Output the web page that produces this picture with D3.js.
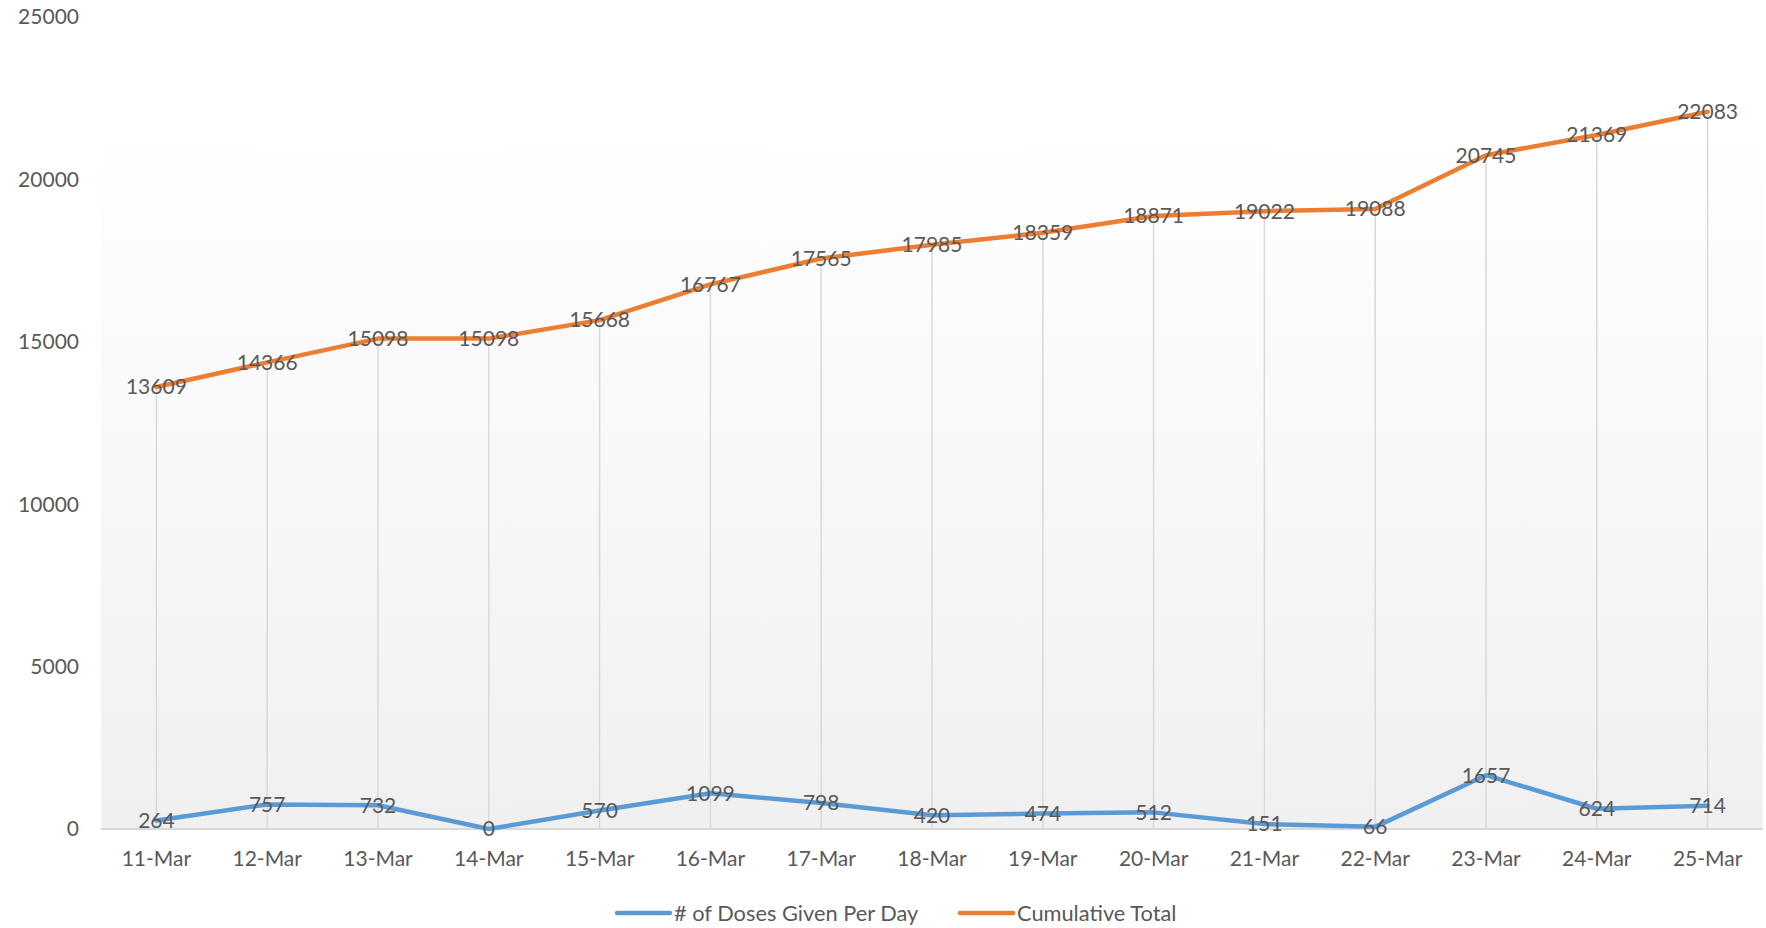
<!DOCTYPE html>
<meta charset="utf-8">
<style>
body { margin: 0; background: #fff; font-family: Lato, "Open Sans", sans-serif; }
text { fill: #595959; }
</style>
<body>
<div id="chart"></div>
<script src="https://d3js.org/d3.v7.min.js"></script>
<script>

var dates = ["11-Mar","12-Mar","13-Mar","14-Mar","15-Mar","16-Mar","17-Mar","18-Mar","19-Mar","20-Mar","21-Mar","22-Mar","23-Mar","24-Mar","25-Mar"];
var dosesPerDay = [264,757,732,0,570,1099,798,420,474,512,151,66,1657,624,714];
var cumulative = [13609,14366,15098,15098,15668,16767,17565,17985,18359,18871,19022,19088,20745,21369,22083];
var yTicks = [0,5000,10000,15000,20000,25000];
var seriesNames = ["# of Doses Given Per Day", "Cumulative Total"];
var seriesColors = ["#5b9bd5", "#ed7d31"];

var width = 1766, height = 928;
var plotLeft = 101, plotRight = 1763, plotTop = 17, plotBottom = 829;

var svg = d3.select("#chart").append("svg")
    .attr("width", width)
    .attr("height", height);

var x = d3.scalePoint()
    .domain(dates)
    .range([plotLeft, plotRight])
    .padding(0.5);

var y = d3.scaleLinear()
    .domain([0, 25000])
    .range([plotBottom, plotTop]);

// plot area background, fades to white toward the top
var grad = svg.append("defs").append("linearGradient")
    .attr("id", "bg")
    .attr("x1", 0).attr("y1", 1).attr("x2", 0).attr("y2", 0);
grad.append("stop").attr("offset", "0%").attr("stop-color", "#f0f0f0");
grad.append("stop").attr("offset", "100%").attr("stop-color", "#ffffff");

svg.append("rect")
    .attr("x", plotLeft)
    .attr("y", 123)
    .attr("width", plotRight - plotLeft)
    .attr("height", plotBottom - 123)
    .attr("fill", "url(#bg)");

// drop lines from highest point to the axis
svg.append("g").selectAll("line")
    .data(dates)
    .enter().append("line")
    .attr("x1", function(d) { return x(d); })
    .attr("x2", function(d) { return x(d); })
    .attr("y1", function(d, i) { return y(Math.max(cumulative[i], dosesPerDay[i])); })
    .attr("y2", plotBottom)
    .attr("stroke", "#d9d9d9")
    .attr("stroke-width", 1.5);

// x axis line
svg.append("line")
    .attr("x1", plotLeft).attr("x2", plotRight)
    .attr("y1", plotBottom).attr("y2", plotBottom)
    .attr("stroke", "#d9d9d9")
    .attr("stroke-width", 2);

// y tick labels
svg.append("g").selectAll("text")
    .data(yTicks)
    .enter().append("text")
    .attr("x", 79)
    .attr("y", function(d) { return y(d); })
    .attr("dy", "0.35em")
    .attr("text-anchor", "end")
    .style("font-size", "21px")
    .text(function(d) { return d; });

// x tick labels
svg.append("g").selectAll("text")
    .data(dates)
    .enter().append("text")
    .attr("x", function(d) { return x(d); })
    .attr("y", 859)
    .attr("dy", "0.35em")
    .attr("text-anchor", "middle")
    .style("font-size", "21px")
    .text(function(d) { return d; });

var line = d3.line()
    .x(function(d, i) { return x(dates[i]); })
    .y(function(d) { return y(d); });

[dosesPerDay, cumulative].forEach(function(values, s) {
    svg.append("path")
        .datum(values)
        .attr("d", line)
        .attr("fill", "none")
        .attr("stroke", seriesColors[s])
        .attr("stroke-width", 4.5)
        .attr("stroke-linejoin", "round")
        .attr("stroke-linecap", "round");

    svg.append("g").selectAll("text")
        .data(values)
        .enter().append("text")
        .attr("x", function(d, i) { return x(dates[i]); })
        .attr("y", function(d) { return y(d); })
        .attr("dy", "0.35em")
        .attr("text-anchor", "middle")
        .style("font-size", "21px")
        .text(function(d) { return d; });
});

// legend
var legendX = [617, 960];
var legend = svg.append("g").selectAll("g")
    .data(seriesNames)
    .enter().append("g")
    .attr("transform", function(d, i) { return "translate(" + legendX[i] + ",913)"; });

legend.append("line")
    .attr("x1", 0).attr("x2", 53)
    .attr("stroke", function(d, i) { return seriesColors[i]; })
    .attr("stroke-width", 4.5)
    .attr("stroke-linecap", "round");

legend.append("text")
    .attr("x", 57)
    .attr("dy", "0.35em")
    .style("font-size", "21.8px")
    .text(function(d) { return d; });

</script>
</body>
